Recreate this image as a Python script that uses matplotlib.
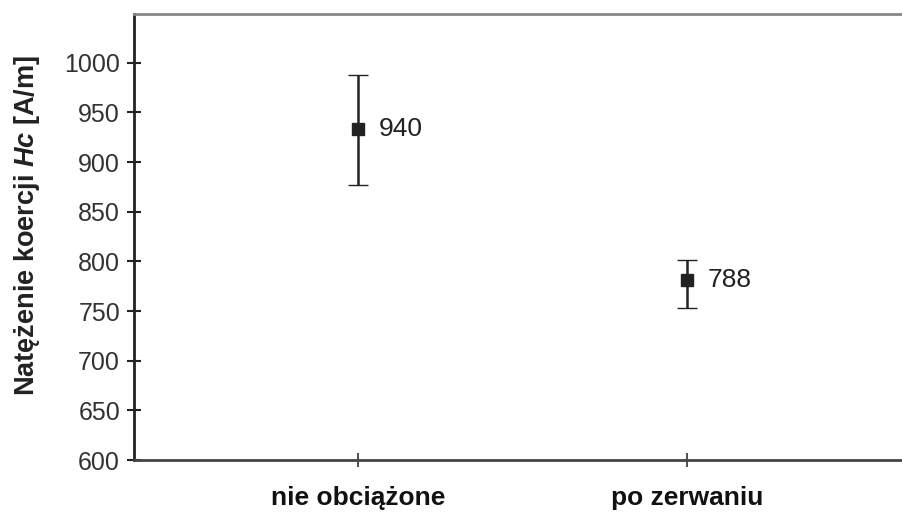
import matplotlib
matplotlib.use("Agg")
import matplotlib.pyplot as plt

categories = ["nie obciążone", "po zerwaniu"]
means = [933, 781]
err_low = [877, 753]
err_high = [988, 801]
value_labels = ["940", "788"]
y_ticks = [600, 650, 700, 750, 800, 850, 900, 950, 1000]

plt.rcParams['font.family'] = ['Liberation Sans', 'DejaVu Sans']
plt.rcParams['mathtext.fontset'] = 'custom'
plt.rcParams['mathtext.bfit'] = 'Liberation Sans:bold:italic'
plt.rcParams['mathtext.bf'] = 'Liberation Sans:bold'
plt.rcParams['mathtext.rm'] = 'Liberation Sans'

fig = plt.figure(figsize=(9.03, 5.16), dpi=100)
ax = fig.add_axes([134/903, 1 - 460/516, (903 - 134)/903, (460 - 14)/516])

x = list(range(len(categories)))
yerr = [[m - lo for m, lo in zip(means, err_low)], [hi - m for m, hi in zip(means, err_high)]]
ax.errorbar(x, means, yerr=yerr, fmt='s', color='#222222', ms=8, capsize=7,
            elinewidth=1.8, capthick=1.8, markeredgewidth=1)
for xi, m, lab in zip(x, means, value_labels):
    ax.annotate(lab, (xi, m), xytext=(15, 0), textcoords='offset points',
                fontsize=19, va='center', ha='left', color='#222222')

ax.set_xlim(-0.681, 1.657)
ax.set_ylim(600, 1049)
ax.set_yticks(y_ticks)
ax.set_xticks(x)
ax.set_xticklabels(categories, fontsize=19, fontweight='bold')
ax.tick_params(axis='x', direction='inout', length=10, width=1.2, pad=14, colors='#333333')
ax.tick_params(axis='y', direction='inout', length=10, width=1.5, labelsize=18, pad=5, colors='#222222')
for t in ax.get_xticklabels():
    t.set_color('#111111')
for t in ax.get_yticklabels():
    t.set_color('#333333')

ax.spines['left'].set_color('#222222')
ax.spines['left'].set_linewidth(2)
ax.spines['bottom'].set_color('#444444')
ax.spines['bottom'].set_linewidth(2)
ax.spines['top'].set_color('#888888')
ax.spines['top'].set_linewidth(2)
ax.spines['right'].set_visible(False)

fig.text(27/903, 1 - 225/516, r'Natężenie koercji $\mathbfit{Hc}$ [A/m]', rotation=90,
         fontsize=19.5, fontweight='bold', va='center', ha='center', color='#222222')

fig.savefig('out.png', dpi=100)
